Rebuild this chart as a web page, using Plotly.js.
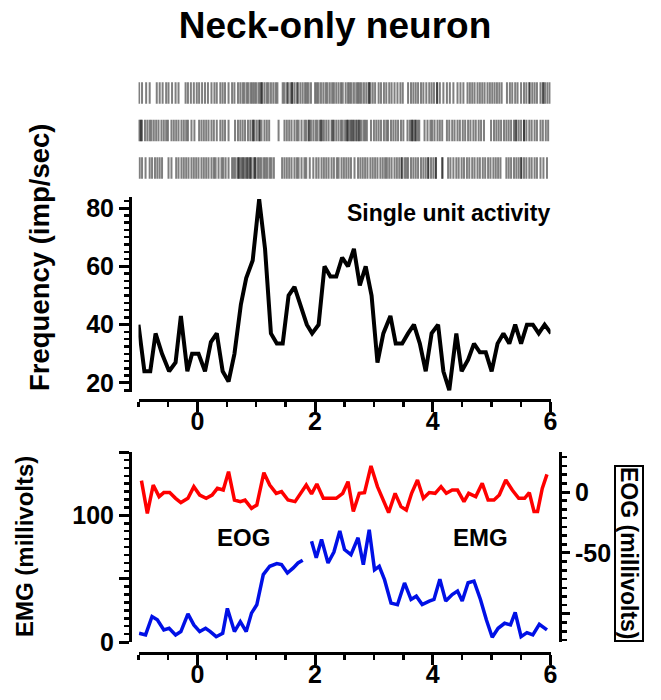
<!DOCTYPE html>
<html>
<head>
<meta charset="utf-8">
<script src="https://cdn.plot.ly/plotly-3.0.1.min.js"></script>
<style>
  html, body { margin: 0; padding: 0; background: #fff; }
  #chart { width: 661px; height: 700px; }
</style>
</head>
<body>
<div id="chart"></div>
<script>
// Neck-only neuron: spike raster, binned firing rate, EMG / EOG traces.

// Raster: spike times (s) for the three trials, top row first
const trial1 = [-0.99,-0.94,-0.87,-0.81,-0.69,-0.64,-0.59,-0.53,-0.49,-0.43,-0.37,-0.32,-0.20,-0.16,-0.11,-0.06,-0.01,0.03,0.08,0.13,0.18,0.24,0.29,0.33,0.39,0.43,0.47,0.53,0.59,0.63,0.69,0.73,0.77,0.80,0.84,0.87,0.91,0.94,0.97,1.00,1.04,1.07,1.09,1.10,1.14,1.18,1.21,1.25,1.29,1.33,1.36,1.45,1.48,1.52,1.54,1.58,1.61,1.61,1.65,1.69,1.71,1.75,1.79,1.83,1.86,1.89,1.93,2.00,2.03,2.06,2.10,2.14,2.18,2.21,2.25,2.29,2.32,2.36,2.40,2.44,2.47,
  2.52,2.56,2.59,2.62,2.66,2.70,2.73,2.76,2.79,2.83,2.87,2.91,2.92,2.94,2.98,3.02,3.08,3.12,3.17,3.21,3.26,3.30,3.35,3.40,3.45,3.49,3.58,3.63,3.67,3.71,3.75,3.80,3.84,3.89,3.94,3.98,4.02,4.07,4.075,4.12,4.18,4.24,4.29,4.35,4.42,4.47,4.52,4.59,4.63,4.67,4.71,4.76,4.80,4.84,4.88,4.93,4.97,5.01,5.05,5.09,5.13,5.17,5.26,5.31,5.35,5.40,5.44,5.50,5.55,5.59,5.64,5.645,5.69,5.73,5.77,5.83,5.87,5.88,5.91,5.95,5.99];
const trial2 = [-1.00,-0.97,-0.96,-0.94,-0.89,-0.85,-0.81,-0.78,-0.74,-0.70,-0.66,-0.61,-0.57,-0.53,-0.50,-0.44,-0.40,-0.36,-0.32,-0.27,-0.23,-0.19,-0.16,-0.10,-0.05,0.03,0.07,0.11,0.15,0.19,0.24,0.28,0.33,0.39,0.43,0.47,0.53,0.64,0.69,0.73,0.77,0.81,0.86,0.90,0.94,0.95,0.97,1.01,1.05,1.06,1.09,1.14,1.18,1.22,1.38,1.48,1.52,1.56,1.60,1.65,1.69,1.72,1.77,1.82,1.85,1.89,1.90,1.93,1.97,2.01,2.04,2.08,2.10,2.12,2.15,2.19,2.23,2.28,2.30,2.32,2.36,2.40,2.44,2.47,
  2.51,2.54,2.55,2.57,2.60,2.62,2.64,2.66,2.69,2.71,2.74,2.75,2.78,2.82,2.85,2.88,2.95,3.00,3.04,3.08,3.12,3.17,3.21,3.24,3.29,3.33,3.37,3.41,3.46,3.50,3.57,3.61,3.64,3.65,3.67,3.70,3.71,3.74,3.77,3.86,3.91,3.96,3.99,4.03,4.08,4.12,4.16,4.24,4.28,4.33,4.37,4.42,4.46,4.51,4.55,4.60,4.64,4.69,4.73,4.78,4.82,4.87,4.99,5.04,5.08,5.12,5.16,5.21,5.25,5.29,5.33,5.38,5.41,5.42,5.46,5.50,5.55,5.55,5.59,5.64,5.68,5.73,5.77,5.83,5.87,5.92,5.96];
const trial3 = [-0.98,-0.94,-0.88,-0.81,-0.77,-0.72,-0.68,-0.64,-0.60,-0.49,-0.44,-0.36,-0.32,-0.27,-0.23,-0.19,-0.15,-0.10,-0.06,-0.02,0.02,0.07,0.11,0.15,0.19,0.24,0.28,0.31,0.36,0.41,0.44,0.48,0.53,0.59,0.62,0.65,0.69,0.70,0.72,0.75,0.77,0.79,0.82,0.84,0.86,0.89,0.90,0.92,0.96,0.98,0.99,1.03,1.06,1.09,1.13,1.16,1.19,1.23,1.26,1.30,1.44,1.48,1.52,1.56,1.60,1.65,1.69,1.72,1.77,1.82,1.85,1.91,1.97,2.02,2.06,2.11,2.15,2.19,2.23,2.28,2.32,2.37,2.40,2.45,2.49,
  2.53,2.57,2.61,2.67,2.73,2.77,2.81,2.85,2.89,2.94,2.98,3.02,3.06,3.11,3.15,3.19,3.22,3.26,3.30,3.35,3.39,3.43,3.47,3.475,3.52,3.55,3.58,3.63,3.67,3.71,3.75,3.80,3.84,3.88,3.92,3.925,3.97,4.01,4.05,4.055,4.16,4.165,4.26,4.30,4.35,4.40,4.44,4.49,4.53,4.58,4.62,4.67,4.71,4.76,4.80,4.85,4.89,4.94,4.98,5.03,5.07,5.11,5.15,5.25,5.29,5.33,5.38,5.42,5.46,5.50,5.505,5.55,5.59,5.64,5.68,5.73,5.77,5.83,5.88,5.94];

// Single unit activity (imp/sec) per bin
const freqTime = [-1.0,-0.9,-0.8,-0.71,-0.6,-0.48,-0.37,-0.28,-0.17,-0.09,0.02,0.13,0.23,0.33,0.43,0.53,0.63,0.74,0.83,0.94,1.05,1.15,1.25,1.35,1.45,1.55,1.65,1.75,1.86,1.95,2.06,2.16,2.26,2.36,2.46,2.56,2.66,2.76,2.86,2.96,3.06,3.16,3.28,3.37,3.48,3.58,3.68,3.78,3.88,3.98,4.09,4.18,4.28,4.40,4.49,4.60,4.70,4.80,4.90,5.00,5.10,5.20,5.30,5.40,5.50,5.60,5.70,5.80,5.90,6.01];
const freqRate = [40,24,24,37,30,24,27,43,24,30,30,24,34,37,24,20.5,30,47,56,62,83,66,37,33.5,33.5,50,53,47,40,37,40,60,56.5,56.5,63,60,66,53.5,60,50,27,37,43,33.5,33.5,37,40,33.5,24,37,40,24,17.5,37,24,28,33.5,30.5,30.5,24,33.5,37,33.5,40,33.5,40,40,37,40,37];

// EMG (left axis, blue); null = break in the trace
const emgTime = [-0.99,-0.88,-0.77,-0.68,-0.57,-0.48,-0.37,-0.28,-0.16,-0.06,0.04,0.14,0.22,0.32,0.43,0.51,0.63,0.73,0.83,0.92,1.01,1.12,1.23,1.35,1.43,1.53,1.63,1.71,1.79,1.87,1.94,2.02,2.11,2.22,2.32,2.42,2.50,2.61,2.73,2.82,2.92,3.01,3.09,3.18,3.29,3.40,3.52,3.63,3.72,3.82,3.94,4.02,4.12,4.22,4.33,4.42,4.50,4.60,4.70,4.81,4.91,5.01,5.11,5.22,5.32,5.40,5.50,5.60,5.70,5.81,5.94];
const emgValue = [6.9,5.6,20.1,17.5,9.5,10.8,5.6,8.2,22.2,13.5,8.2,10.8,8.2,4.2,6.9,26.5,8.2,16.1,8.2,22.8,29.4,53.2,59.8,61.9,61.1,54.5,58.5,62.4,64.6,null,79.6,66.4,81,62.4,71,87.6,73,69,82.3,61.1,88.6,57,59.8,49.2,30.7,29.4,46.6,33.6,36.2,29.6,32.3,33.6,49.5,32.3,37.5,40.2,32.3,46.8,48.1,33.6,17.5,3.7,10.8,14.8,13.5,23.3,4.2,7.4,5.6,14,9.5];

// EOG (right axis, red)
const eogTime = [-0.95,-0.85,-0.75,-0.65,-0.57,-0.47,-0.37,-0.28,-0.16,-0.06,0.04,0.15,0.25,0.34,0.44,0.53,0.63,0.73,0.81,0.92,1.01,1.13,1.23,1.34,1.43,1.54,1.66,1.75,1.85,1.94,2.03,2.14,2.25,2.36,2.47,2.56,2.65,2.75,2.84,2.95,3.06,3.15,3.25,3.36,3.46,3.55,3.64,3.74,3.84,3.94,4.04,4.14,4.23,4.33,4.42,4.53,4.61,4.73,4.84,4.94,5.04,5.13,5.24,5.35,5.46,5.56,5.64,5.72,5.78,5.86,5.94];
const eogValue = [9.3,-17.5,5.7,-3.8,-0.5,-0.5,-5.2,-8.7,-5.2,4.4,-2.5,-5.2,-2.5,3.0,1.6,16.7,-6.6,-7.9,-6.6,-13.4,-10.7,15.8,5.7,-1.1,0.3,-6.6,-7.9,-1.1,5.7,-1.6,6.6,-5.2,-5.2,-5.2,-1.1,8.5,-16,-1.1,-0.5,21.3,4.4,-6.6,-16.9,-1.1,-12,-14.8,-1.1,9.8,-5.2,-0.5,-1.1,4.4,-1.1,1.6,1.6,-7.9,-1.1,-3.8,7.1,-6.6,-6.6,-2.5,9.8,1.6,-5.2,-5.2,-0.5,-16,-16,3,14.5];

const FONT = "Liberation Sans, Arial, Helvetica, sans-serif";
const W = 661, H = 700;
const px = (x) => x / W;          // pixel -> paper x
const py = (y) => 1 - y / H;      // pixel -> paper y

const tickFont = { family: FONT, size: 25, color: "#000", weight: "bold" };
const ax = {
  showline: true, linecolor: "#000", linewidth: 3,
  ticks: "outside", tickcolor: "#000", tickwidth: 3, ticklen: 10,
  showgrid: false, zeroline: false, tickfont: tickFont, fixedrange: true,
};
const minor = (dtick) => ({ ticks: "outside", ticklen: 5, tickwidth: 2.5, tickcolor: "#000", dtick, showgrid: false });

const xDomain = [px(138.5), px(550.5)];

// line-ns markers are drawn 2*size tall
const rasterRow = (times, row) => ({
  x: times, y: times.map(() => row), type: "scatter", mode: "markers",
  xaxis: "x3", yaxis: "y4", hoverinfo: "skip",
  marker: { symbol: "line-ns-open", size: 15.5, color: "rgba(0,0,0,0.5)", line: { width: 2 } },
});

const traces = [
  rasterRow(trial1, 3), rasterRow(trial2, 2), rasterRow(trial3, 1),
  { x: freqTime, y: freqRate, type: "scatter", mode: "lines", xaxis: "x", yaxis: "y",
    line: { color: "#000", width: 4 } },
  { x: emgTime, y: emgValue, type: "scatter", mode: "lines", xaxis: "x2", yaxis: "y2",
    connectgaps: false, line: { color: "#0010e6", width: 3.5 } },
  { x: eogTime, y: eogValue, type: "scatter", mode: "lines", xaxis: "x2", yaxis: "y3",
    line: { color: "#ff0000", width: 3.5 } },
];

const ann = (text, x, y, size, extra) => Object.assign({
  text, x: px(x), y: py(y), xref: "paper", yref: "paper", showarrow: false,
  xanchor: "center", yanchor: "middle",
  font: { family: FONT, size, color: "#000", weight: "bold" },
}, extra || {});

const layout = {
  width: W, height: H,
  margin: { l: 0, r: 0, t: 0, b: 0 },
  paper_bgcolor: "#fff", plot_bgcolor: "#fff",
  showlegend: false,
  font: { family: FONT, color: "#000" },
  title: { text: "Neck-only neuron", x: px(335), xanchor: "center", y: py(25), yanchor: "middle",
           font: { family: FONT, size: 37, color: "#000", weight: "bold" } },

  // firing rate
  xaxis: { ...ax, domain: xDomain, range: [-1, 6], anchor: "free", position: py(400),
           tick0: 0, dtick: 2, minor: minor(0.5), ticklabelstandoff: -12 },
  yaxis: { ...ax, domain: [py(392), py(197)], range: [16.9, 83.8], anchor: "free", position: px(130),
           tick0: 0, dtick: 20, minor: minor(2.5) },

  // EMG / EOG
  xaxis2: { ...ax, domain: xDomain, range: [-1, 6], anchor: "free", position: py(653),
            tick0: 0, dtick: 2, minor: minor(0.5), ticklabelstandoff: -12 },
  yaxis2: { ...ax, domain: [py(642), py(452)], range: [0, 150], anchor: "free", position: px(130),
            tickmode: "array", tickvals: [0, 50, 100, 150], ticktext: ["0", "", "100", ""],
            minor: minor(6.25) },
  yaxis3: { ...ax, overlaying: "y2", side: "right", range: [-123, 32.8], anchor: "free", position: px(560),
            tickmode: "array", tickvals: [-100, -50, 0], ticktext: ["", "-50", "0"], ticklen: 8,
            minor: minor(50 / 7) },

  // raster
  xaxis3: { domain: xDomain, range: [-1, 6], anchor: "y4", visible: false, fixedrange: true },
  yaxis4: { domain: [py(186.75), py(74.25)], range: [0.5, 3.5], anchor: "x3", visible: false, fixedrange: true },

  annotations: [
    ann("Single unit activity", 345, 213, 23, { xanchor: "left" }),
    ann("Frequency (imp/sec)", 39, 258, 27.5, { textangle: -90 }),
    ann("EMG (millivolts)", 24, 547, 24, { textangle: -90 }),
    ann("EOG (millivolts)", 629, 553, 23, { textangle: 90, bordercolor: "#000", borderwidth: 2, borderpad: 0 }),
    ann("EOG", 243, 537, 24),
    ann("EMG", 480, 537, 24),
  ],
};

Plotly.newPlot("chart", traces, layout, { displayModeBar: false, staticPlot: true });
</script>
</body>
</html>
